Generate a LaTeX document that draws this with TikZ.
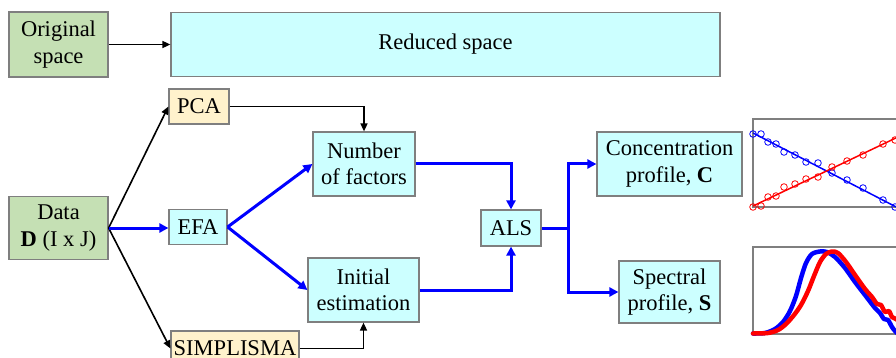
\documentclass[tikz,border=0pt]{standalone}
\usepackage{fontspec}
\setmainfont{Liberation Serif}
\usetikzlibrary{arrows.meta}
\definecolor{boxgreen}{HTML}{C5E0B4}
\definecolor{boxcyan}{HTML}{CCFFFF}
\definecolor{boxtan}{HTML}{FFF2CC}
\definecolor{edgegray}{HTML}{7F7F7F}
\begin{document}
\begin{tikzpicture}[x=1pt,y=-1pt,
  box/.style={draw=edgegray, line width=1.2pt, align=center, inner sep=0pt,
    font=\fontsize{22.5}{26.5}\selectfont},
  greenbox/.style={box, fill=boxgreen},
  cyanbox/.style={box, fill=boxcyan},
  tanbox/.style={box, fill=boxtan},
  blk/.style={draw=black, line width=1.6pt, -{Triangle[length=8pt,width=7pt]}},
  blu/.style={draw=blue, line width=3pt, -{Triangle[length=9pt,width=9pt]}},
  bluline/.style={draw=blue, line width=3pt},
  frame/.style={draw=edgegray, line width=1.2pt},
  mk/.style={line width=0.8pt},
  curve/.style={line width=4.5pt, line join=round, line cap=round},
]
\useasboundingbox (0,0) rectangle (896,358);
\clip (0,0) rectangle (896,358);
\fill[white] (0,0) rectangle (896,358);

% nodes
\node[greenbox, minimum width=99pt, minimum height=65pt] (orig) at (58.5,44.5) {Original\\space};
\node[cyanbox, minimum width=549pt, minimum height=64pt] (red) at (445.5,44.5) {Reduced space};
\node[tanbox, minimum width=60pt, minimum height=35pt] (pca) at (199,106.5) {PCA};
\node[greenbox, minimum width=99pt, minimum height=63pt] (data) at (58.5,228) {Data\\\textbf{D} (I x J)};
\node[cyanbox, minimum width=58pt, minimum height=35pt] (efa) at (198,227) {EFA};
\node[cyanbox, minimum width=102pt, minimum height=64pt] (nf) at (364,164) {Number\\of factors};
\node[cyanbox, minimum width=111pt, minimum height=64pt] (ie) at (363.5,290) {Initial\\estimation};
\node[tanbox, minimum width=128pt, minimum height=35pt] (simp) at (235,348.5) {SIMPLISMA};
\node[cyanbox, minimum width=60pt, minimum height=36pt] (als) at (511,228) {ALS};
\node[cyanbox, minimum width=145pt, minimum height=64pt] (conc) at (669.5,164) {Concentration\\profile, \textbf{C}};
\node[cyanbox, minimum width=101pt, minimum height=62pt] (spec) at (669.5,292) {Spectral\\profile, \textbf{S}};
\coordinate (split) at (568,228);

% connectors
\draw[blk] (orig.east) -- (red.west);
\draw[blk] (data.east) -- (pca.west);
\draw[blk] (data.east) -- (simp.west);
\draw[blk] (pca.east) -| (nf.north);
\draw[blk] (simp.east) -| (ie.south);
\draw[blu] (data.east) -- (data.east -| efa.west);
\draw[blu] (efa.east) -- (nf.west);
\draw[blu] (efa.east) -- (ie.west);
\draw[blu] (nf.east) -| (als.north);
\draw[blu] (ie.east) -| (als.south);
\draw[bluline] (als.east) -- (split);
\draw[blu] (split) |- (conc.west);
\draw[blu] (split) |- (spec.west);

% plot 1: concentration profiles
\draw[frame] (753,119) rectangle (920,207);
\draw[blue, line width=1.5pt] (753,133) -- (920,219.3);
\draw[red, line width=1.5pt] (753,206) -- (920,126.5);
\foreach \px/\py in {753/134,761/134,768/142,776/144,784/152,795/155,806/162,818/163,832/173,847/180,863/188,883/200,895/207}
  \draw[blue, mk] (\px,\py) circle (3.3pt);
\foreach \px/\py in {753/207,761/206,768/197,776/196,784/187,795/184,806/179,818/177,832/167,847/161,863/155,883/144,895/140}
  \draw[red, mk] (\px,\py) circle (3.3pt);

% plot 2: spectral profiles
\draw[frame] (753,247) rectangle (920,334);
\draw[blue, curve] plot[smooth, tension=0.5] coordinates {
  (753,333.5) (765,333) (775,329) (783,322) (790,311) (796,296) (801,278)
  (806,263) (812,254) (820,251.5) (827,252) (835,257) (845,268) (855,282)
  (865,295) (875,308) (880,313) (884,319) (888,320) (892,327) (896,332) (905,340)};
\draw[red, curve] plot[smooth, tension=0.5] coordinates {
  (753,333.5) (768,333) (778,330) (786,324) (794,315) (801,305) (808,291)
  (814,276) (820,262) (826,254) (832,251.5) (838,253) (846,262) (855,275)
  (865,289) (872,297) (877,304) (881,305) (885,312) (889,311) (892,317) (896,319) (905,326)};
\end{tikzpicture}
\end{document}
